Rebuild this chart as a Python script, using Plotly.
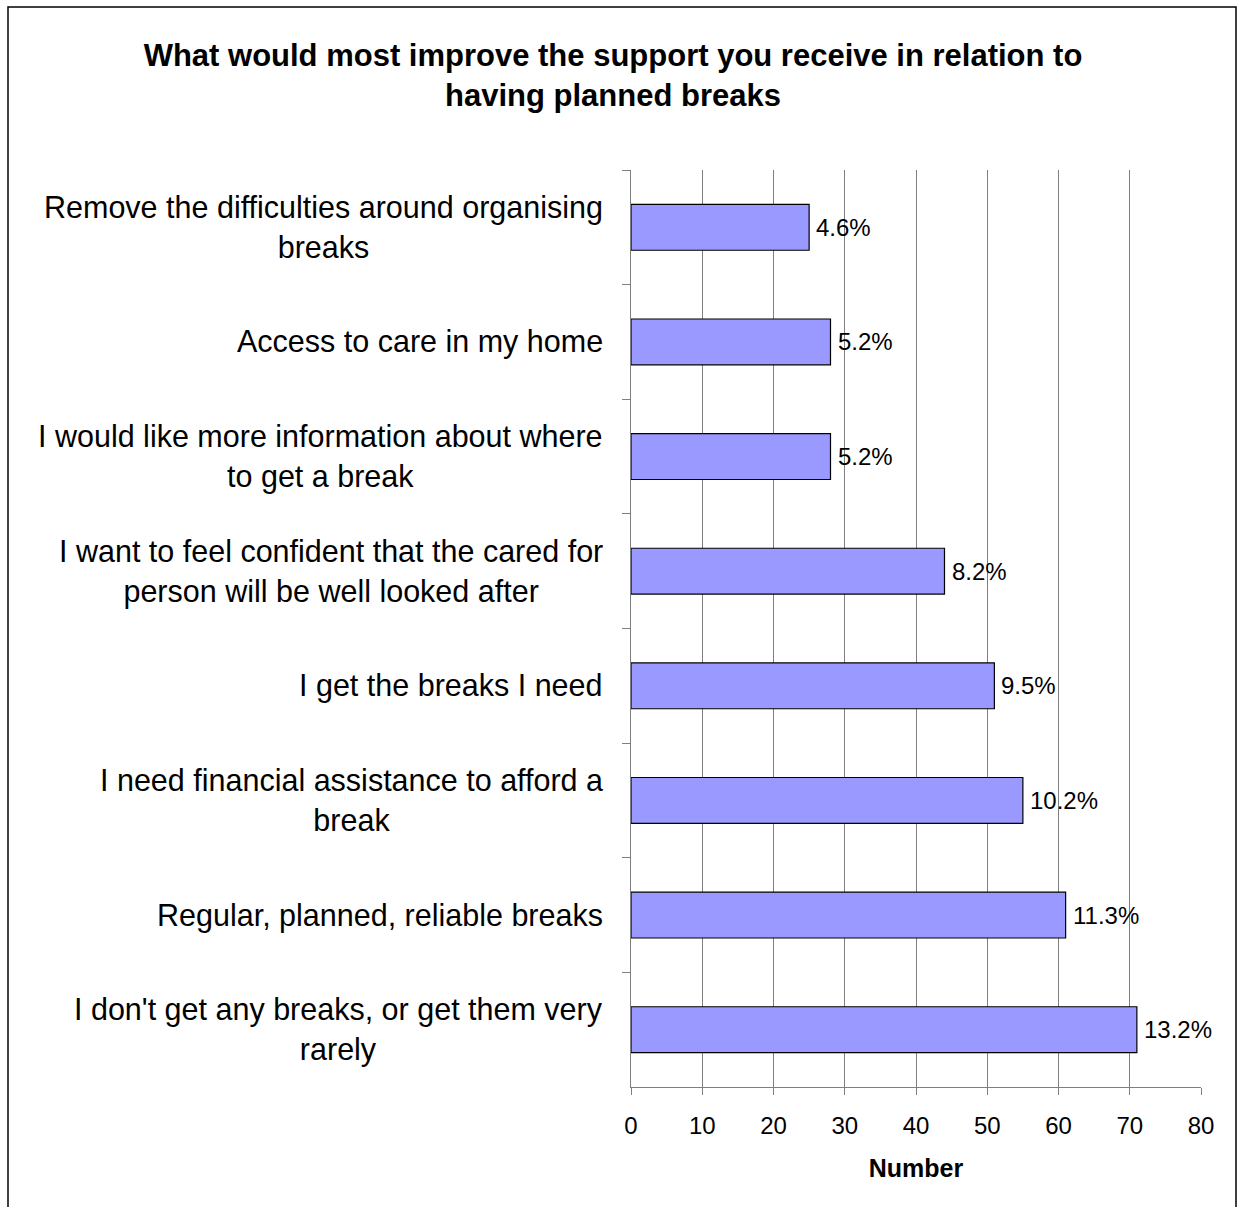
import plotly.graph_objects as go

categories = [
    "Remove the difficulties around organising<br>breaks",
    "Access to care in my home",
    "I would like more information about where<br>to get a break",
    "I want to feel confident that the cared for<br>person will be well looked after",
    "I get the breaks I need",
    "I need financial assistance to afford a<br>break",
    "Regular, planned, reliable breaks",
    "I don't get any breaks, or get them very<br>rarely",
]
counts = [25, 28, 28, 44, 51, 55, 61, 71]
percent_labels = ["4.6%", "5.2%", "5.2%", "8.2%", "9.5%", "10.2%", "11.3%", "13.2%"]
x_ticks = [0, 10, 20, 30, 40, 50, 60, 70, 80]

FONT = "Arial, Liberation Sans"
W, H = 1238, 1207
L, R, T, B = 631, 37, 170, 120
pw, ph = W - L - R, H - T - B

fig = go.Figure()
fig.add_trace(go.Bar(
    y=categories, x=counts, orientation="h",
    marker=dict(color="#9999FF", line=dict(color="black", width=1.2)),
    width=0.4,
    hoverinfo="skip",
))

for cat in categories:
    fig.add_annotation(
        x=0, xref="paper", y=cat, yref="y",
        text=cat, showarrow=False, xanchor="right", align="center",
        xshift=-26,
        font=dict(family=FONT, size=30.5, color="black"),
    )

for cat, v, lab in zip(categories, counts, percent_labels):
    fig.add_annotation(
        x=v, xref="x", y=cat, yref="y",
        text=lab, showarrow=False, xanchor="left", yanchor="middle",
        xshift=5,
        font=dict(family=FONT, size=24, color="black"),
    )

def px_x(p):
    return (p - L) / pw

def px_y(p):
    return (H - B - p) / ph

fig.add_shape(type="rect", xref="paper", yref="paper",
              x0=px_x(8), x1=px_x(1236), y0=px_y(1230), y1=px_y(7),
              line=dict(color="black", width=1.5), fillcolor="rgba(0,0,0,0)", layer="below")

fig.update_layout(
    width=W, height=H,
    margin=dict(l=L, r=R, t=T, b=B, autoexpand=False),
    paper_bgcolor="white", plot_bgcolor="white",
    showlegend=False,
    title=dict(
        text="<b>What would most improve the support you receive in relation to<br>having planned breaks</b>",
        x=613 / W, xanchor="center", y=1 - 66 / H, yanchor="middle",
        font=dict(family=FONT, size=31, color="black"),
    ),
    font=dict(family=FONT, color="black"),
)
fig.update_xaxes(
    range=[0, 80], tickvals=x_ticks, ticktext=[str(v) for v in x_ticks],
    showgrid=True, gridcolor="#7f7f7f", gridwidth=1,
    showline=True, linecolor="#7f7f7f", linewidth=1,
    ticks="outside", ticklen=7, tickcolor="#7f7f7f",
    ticklabelstandoff=10,
    tickfont=dict(family=FONT, size=24, color="black"),
    title=dict(text="<b>Number</b>", font=dict(family=FONT, size=25, color="black"), standoff=21),
    zeroline=False, fixedrange=True,
)
fig.update_yaxes(
    autorange="reversed", showticklabels=False,
    showline=True, linecolor="#7f7f7f", linewidth=1,
    ticks="outside", ticklen=8, tickcolor="#7f7f7f", tickson="boundaries",
    showgrid=False, fixedrange=True,
)

fig.write_html("out.html")
